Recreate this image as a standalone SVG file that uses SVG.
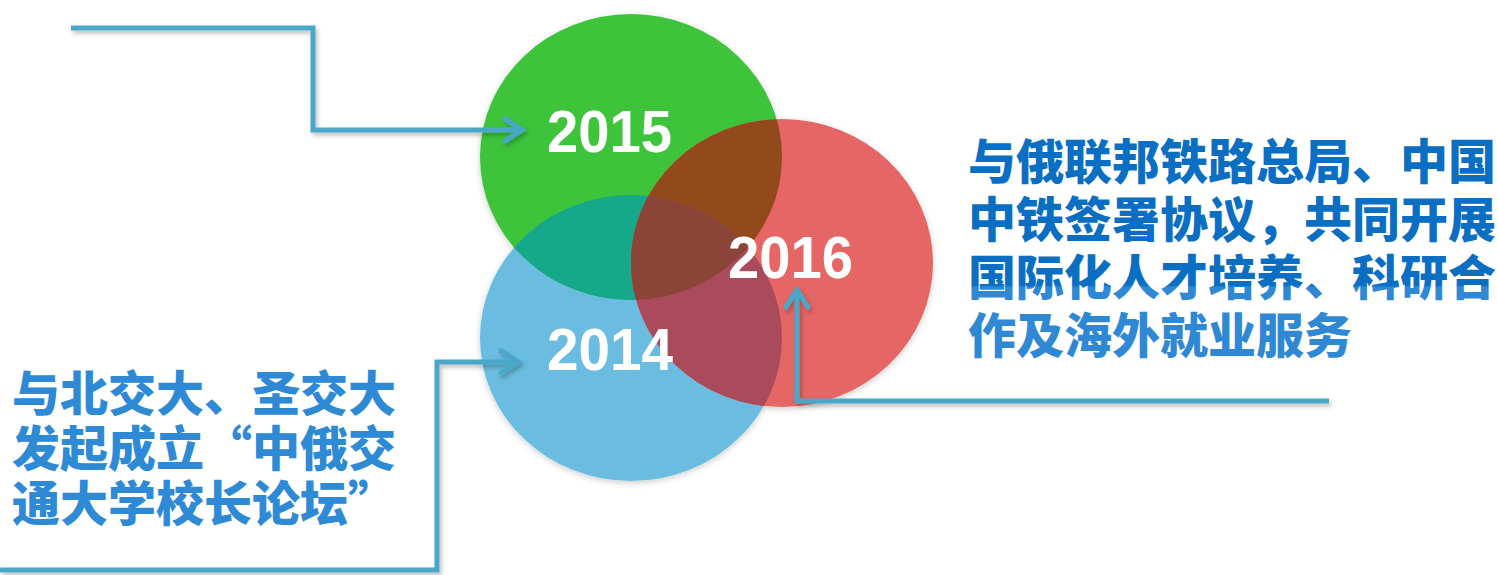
<svg xmlns="http://www.w3.org/2000/svg" width="1498" height="575" viewBox="0 0 1498 575">
<defs>
<style>
.conn{fill:none;stroke:#4aa8c7;stroke-width:5;stroke-linejoin:miter;filter:url(#sh)}
.year{font-family:"Liberation Sans",Arial,sans-serif;font-weight:700;font-size:60px;fill:#ffffff}
.cn{font-family:"Noto Sans CJK SC","Noto Sans CJK TC",sans-serif;font-weight:900;font-size:48px}
</style>
<filter id="sh" x="-10%" y="-10%" width="130%" height="130%">
<feDropShadow dx="2" dy="3" stdDeviation="2" flood-color="#000" flood-opacity="0.25"/>
</filter>
<filter id="csh" x="-10%" y="-10%" width="130%" height="130%">
<feDropShadow dx="0" dy="2" stdDeviation="3" flood-color="#000" flood-opacity="0.2"/>
</filter>
<marker id="arr" viewBox="-24 -15 28 30" refX="0" refY="0" markerWidth="28" markerHeight="30" markerUnits="userSpaceOnUse" orient="auto">
<path d="M-17,-11 L0,0 L-17,11" fill="none" stroke="#4aa8c7" stroke-width="5" stroke-linecap="round"/>
</marker>
<clipPath id="cBlue"><ellipse cx="631" cy="338" rx="151" ry="143"/></clipPath>
<clipPath id="cRed"><ellipse cx="782" cy="263" rx="151" ry="144"/></clipPath>
<clipPath id="cBlueRed" clip-path="url(#cRed)"><ellipse cx="631" cy="338" rx="151" ry="143"/></clipPath>
<linearGradient id="rt" gradientUnits="userSpaceOnUse" x1="0" y1="140" x2="0" y2="360">
<stop offset="0" stop-color="#0a6fc2"/>
<stop offset="0.66" stop-color="#0a6fc2"/>
<stop offset="0.67" stop-color="#2f88d3"/>
<stop offset="1" stop-color="#2f88d3"/>
</linearGradient>
</defs>
<rect width="1498" height="575" fill="#ffffff"/>
<g id="circles" filter="url(#csh)">
<g id="node-2014"><ellipse cx="631" cy="338" rx="151" ry="143" fill="#6bbde0"/></g>
<g id="node-2015"><ellipse cx="631" cy="157" rx="151" ry="143" fill="#3cc43b"/></g>
<g id="node-2016"><ellipse cx="782" cy="263" rx="151" ry="144" fill="#e66565"/></g>
<g id="overlaps">
<ellipse cx="631" cy="157" rx="151" ry="143" fill="#19a88a" clip-path="url(#cBlue)"/>
<ellipse cx="631" cy="157" rx="151" ry="143" fill="#924a1b" clip-path="url(#cRed)"/>
<ellipse cx="631" cy="338" rx="151" ry="143" fill="#a94c5a" clip-path="url(#cRed)"/>
<ellipse cx="631" cy="157" rx="151" ry="143" fill="#8b4439" clip-path="url(#cBlueRed)"/>
</g>
</g>
<g id="connectors">
<path class="conn" d="M71,28 H313 V130 H522" marker-end="url(#arr)"/>
<path class="conn" d="M0,570 H437 V362 H518" marker-end="url(#arr)"/>
<path class="conn" d="M1329,401 H797 V290" marker-end="url(#arr)"/>
</g>
<g id="labels">
<text class="year" x="547" y="152" textLength="125" lengthAdjust="spacingAndGlyphs">2015</text>
<text class="year" x="728" y="278" textLength="125" lengthAdjust="spacingAndGlyphs">2016</text>
<text class="year" x="547" y="370" textLength="126" lengthAdjust="spacingAndGlyphs">2014</text>
</g>
<g id="text-2014" class="cn" fill="#2f8ad6">
<text x="12" y="411">与北交大、圣交大</text>
<text x="12" y="466">发起成立“中俄交</text>
<text x="12" y="521">通大学校长论坛”</text>
</g>
<g id="text-2016" class="cn" fill="url(#rt)">
<text x="968" y="179">与俄联邦铁路总局、中国</text>
<text x="968" y="237">中铁签署协议，共同开展</text>
<text x="968" y="295">国际化人才培养、科研合</text>
<text x="968" y="353">作及海外就业服务</text>
</g>
</svg>
